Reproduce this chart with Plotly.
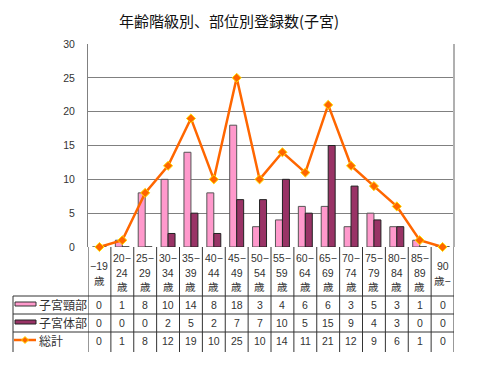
import plotly.graph_objects as go

# ---- data ----
categories = ["−19歳", "20−24歳", "25−29歳", "30−34歳", "35−39歳", "40−44歳", "45−49歳",
              "50−54歳", "55−59歳", "60−64歳", "65−69歳", "70−74歳", "75−79歳", "80−84歳",
              "85−89歳", "90歳−"]
header_lines = [["−19", "歳"], ["20−", "24", "歳"], ["25−", "29", "歳"], ["30−", "34", "歳"],
                ["35−", "39", "歳"], ["40−", "44", "歳"], ["45−", "49", "歳"], ["50−", "54", "歳"],
                ["55−", "59", "歳"], ["60−", "64", "歳"], ["65−", "69", "歳"], ["70−", "74", "歳"],
                ["75−", "79", "歳"], ["80−", "84", "歳"], ["85−", "89", "歳"], ["90", "歳−"]]
cervix = [0, 1, 8, 10, 14, 8, 18, 3, 4, 6, 6, 3, 5, 3, 1, 0]
corpus = [0, 0, 0, 2, 5, 2, 7, 7, 10, 5, 15, 9, 4, 3, 0, 0]
total = [0, 1, 8, 12, 19, 10, 25, 10, 14, 11, 21, 12, 9, 6, 1, 0]
series_names = ["子宮頸部", "子宮体部", "総計"]
title_text = "年齢階級別、部位別登録数(子宮)"
y_ticks = [0, 5, 10, 15, 20, 25, 30]

# ---- layout geometry (pixels, in reference-image coordinates) ----
OFF = 8  # page body margin
W, H = 480 - OFF, 372 - OFF
L, R, T, B = 88 - OFF, 454 - OFF, 44 - OFF, 247 - OFF
FONT = "Liberation Sans, Noto Sans CJK JP, sans-serif"


def py(p):
    return (B - (p - OFF)) / (B - T)


def px(p):
    return ((p - OFF) - L) / (R - L)


xs = list(range(len(categories)))

fig = go.Figure()
fig.add_trace(go.Bar(x=xs, y=cervix, name=series_names[0],
                     marker=dict(color="#FF99CC", line=dict(color="#555555", width=1))))
fig.add_trace(go.Bar(x=xs, y=corpus, name=series_names[1],
                     marker=dict(color="#993366", line=dict(color="#222222", width=1))))
fig.add_trace(go.Scatter(x=xs, y=total, name=series_names[2], mode="lines+markers",
                         line=dict(color="#FF6600", width=2.5),
                         marker=dict(symbol="diamond", size=7, color="#FF6600",
                                     line=dict(color="#FFDD00", width=1)),
                         cliponaxis=False))

shapes = []
annotations = []

# plot-area right border
shapes.append(dict(type="line", xref="paper", yref="paper", x0=1, x1=1, y0=0, y1=1,
                   line=dict(color="#B0B0B0", width=2)))

# table rows
row_lines = [296, 314, 332]
table_bottom = 352
for rl in row_lines:
    shapes.append(dict(type="line", xref="paper", yref="paper", x0=px(13), x1=1,
                       y0=py(rl), y1=py(rl), line=dict(color="#333333", width=1)))
shapes.append(dict(type="line", xref="paper", yref="paper", x0=px(13), x1=px(13),
                   y0=py(296), y1=py(table_bottom), line=dict(color="#333333", width=1)))
for k in range(len(categories) + 1):
    shapes.append(dict(type="line", xref="x", yref="paper", x0=k - 0.5, x1=k - 0.5,
                       y0=0, y1=py(table_bottom), line=dict(color="#333333", width=1)))

# header labels
for i, lines in enumerate(header_lines):
    ys = [258, 272.5, 287] if len(lines) == 3 else [265.5, 280.5]
    for txt, yy in zip(lines, ys):
        annotations.append(dict(x=i, y=py(yy), xref="x", yref="paper", text=txt,
                                showarrow=False, font=dict(size=10.5, color="#333333", family=FONT),
                                xanchor="center", yanchor="middle"))

# values
row_centers = [305, 323, 341]
for vals, yc in zip([cervix, corpus, total], row_centers):
    for i, v in enumerate(vals):
        annotations.append(dict(x=i, y=py(yc), xref="x", yref="paper", text=str(v),
                                showarrow=False, font=dict(size=10.5, color="#333333", family=FONT),
                                xanchor="center", yanchor="middle"))

# series names
for name, yc in zip(series_names, row_centers):
    annotations.append(dict(x=px(37), y=py(yc), xref="paper", yref="paper", text=name,
                            showarrow=False, font=dict(size=12, color="#333333", family=FONT),
                            xanchor="left", yanchor="middle"))

# legend keys
shapes.append(dict(type="rect", xref="paper", yref="paper", x0=px(15), x1=px(36),
                   y0=py(306), y1=py(302), fillcolor="#FF99CC", line=dict(color="#333333", width=1)))
shapes.append(dict(type="rect", xref="paper", yref="paper", x0=px(15), x1=px(36),
                   y0=py(324), y1=py(320), fillcolor="#993366", line=dict(color="#222222", width=1)))
shapes.append(dict(type="line", xref="paper", yref="paper", x0=px(14), x1=px(36),
                   y0=py(340), y1=py(340), line=dict(color="#FF6600", width=2.5)))
cx, cy, d = 25, 340, 3.5
path = "M {} {} L {} {} L {} {} L {} {} Z".format(
    px(cx), py(cy - d), px(cx + d), py(cy), px(cx), py(cy + d), px(cx - d), py(cy))
shapes.append(dict(type="path", xref="paper", yref="paper", path=path,
                   fillcolor="#FF6600", line=dict(color="#FFDD00", width=1)))

fig.update_layout(
    width=W, height=H,
    margin=dict(l=L, r=W - R, t=T, b=H - B, pad=0),
    paper_bgcolor="white", plot_bgcolor="white",
    showlegend=False,
    barmode="group", bargap=0.39, bargroupgap=0,
    title=dict(text=title_text, x=(229 - OFF) / W, xanchor="center",
               y=1 - (22 - OFF) / H, yanchor="middle",
               font=dict(size=15, color="#111111", family="Noto Sans CJK JP")),
    xaxis=dict(range=[-0.5, len(categories) - 0.5], showticklabels=False, showgrid=False,
               zeroline=False, showline=False, fixedrange=True),
    yaxis=dict(range=[0, 30], tickvals=y_ticks, showgrid=True, gridcolor="#808080", gridwidth=1,
               zeroline=False, showline=True, linecolor="#808080", linewidth=1,
               ticks="", ticklabelstandoff=10,
               tickfont=dict(size=10.5, color="#333333", family=FONT)),
    shapes=shapes, annotations=annotations,
    font=dict(family=FONT),
)

fig.write_html("out.html")
